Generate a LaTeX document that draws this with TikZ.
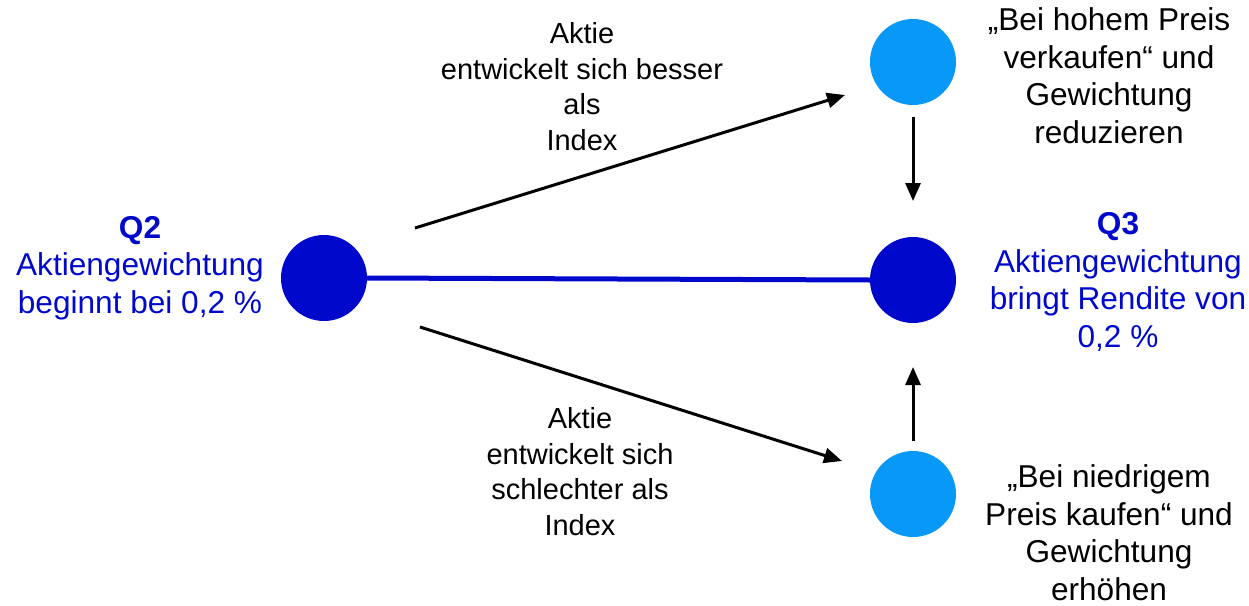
\documentclass[tikz,border=0pt]{standalone}
\usepackage{fontspec}
\setmainfont{Liberation Sans}
\usetikzlibrary{arrows.meta}
\definecolor{dblue}{RGB}{0,8,204}
\definecolor{lblue}{RGB}{8,152,248}
\tikzset{
  dot/.style={circle, minimum size=86pt, inner sep=0pt},
  darkdot/.style={dot, fill=dblue},
  lightdot/.style={dot, fill=lblue},
  txt/.style={align=center, inner sep=0pt, anchor=base, font=\fontsize{31.6}{37.5}\selectfont},
  midtxt/.style={txt, font=\fontsize{29}{35.5}\selectfont},
  bluetxt/.style={txt, text=dblue},
  arr/.style={line width=3pt, -{Triangle[length=18pt,width=15pt]}},
}
\begin{document}
\begin{tikzpicture}[x=1pt,y=-1pt]
\useasboundingbox (0,0) rectangle (1249,605);
\node[darkdot] (q2) at (324,278) {};
\node[darkdot] (q3) at (913,280) {};
\node[lightdot] (hi) at (913,62) {};
\node[lightdot] (lo) at (913,494) {};
\draw[dblue, line width=5pt] (q2.east) -- (q3.west);
\coordinate (ua) at (415,228);
\coordinate (ub) at (845,95);
\coordinate (la) at (420,327);
\coordinate (lb) at (842,461);
\coordinate (da) at (913,117);
\coordinate (db) at (913,201);
\coordinate (pa) at (913,441);
\coordinate (pb) at (913,367);
\draw[arr] (ua) -- (ub);
\draw[arr] (la) -- (lb);
\draw[arr] (da) -- (db);
\draw[arr] (pa) -- (pb);
\node[bluetxt] (t2) at (140,313) {\textbf{Q2}\\Aktiengewichtung\\beginnt bei 0,2 \%};
\node[bluetxt] (t3) at (1118,347) {\textbf{Q3}\\Aktiengewichtung\\bringt Rendite von\\0,2 \%};
\node[txt] (thi) at (1109,143) {„Bei hohem Preis\\verkaufen“ und\\Gewichtung\\reduzieren};
\node[txt] (tlo) at (1109,600) {„Bei niedrigem\\Preis kaufen“ und\\Gewichtung\\erhöhen};
\node[midtxt] (tu) at (582,150) {Aktie\\entwickelt sich besser\\als\\Index};
\node[midtxt] (tl) at (580,535) {Aktie\\entwickelt sich\\schlechter als\\Index};
\end{tikzpicture}
\end{document}
